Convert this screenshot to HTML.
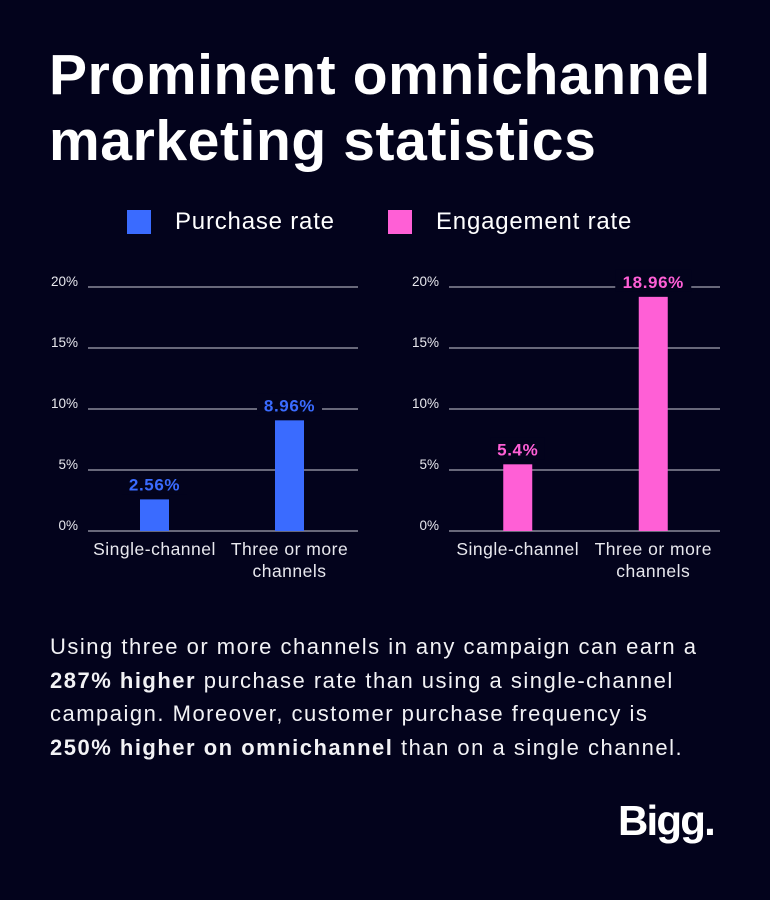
<!DOCTYPE html>
<html><head><meta charset="utf-8"><style>
*{margin:0;padding:0;box-sizing:border-box}
body{width:770px;height:900px;background:#03031c;font-family:"Liberation Sans",sans-serif;color:#fff;position:relative;overflow:hidden}
h1{position:absolute;left:49px;top:42px;font-size:57px;line-height:66px;font-weight:700;letter-spacing:0.6px;white-space:nowrap}
.legend{position:absolute;top:208px;font-size:24px;letter-spacing:0.8px;display:flex;align-items:center}
.sw{width:24px;height:24px;margin-right:24px}
p.body{position:absolute;left:50px;top:630px;font-size:22px;line-height:33.5px;color:#f2f2f5;letter-spacing:1.5px;white-space:nowrap}
.logo{position:absolute;left:618px;top:797px;font-size:42px;font-weight:700;letter-spacing:-1.8px}
svg{position:absolute;left:0;top:0}
</style></head><body>
<h1>Prominent omnichannel<br>marketing statistics</h1>
<div class="legend" style="left:127px"><div class="sw" style="background:#3a6bff"></div>Purchase rate</div>
<div class="legend" style="left:388px"><div class="sw" style="background:#ff5fd6"></div>Engagement rate</div>
<svg id="chart" width="770" height="900"></svg>
<p class="body">Using three or more channels in any campaign can earn a<br><b>287% higher</b> purchase rate than using a single-channel<br>campaign. Moreover, customer purchase frequency is<br><b>250% higher on omnichannel</b> than on a single channel.</p>
<div class="logo">Bigg.</div>
<script>
const categories=["Single-channel","Three or more channels"];
const purchaseValues=[2.56,8.96];
const engagementValues=[5.4,18.96];
const valueLabelsPurchase=["2.56%","8.96%"];
const valueLabelsEngagement=["5.4%","18.96%"];
const ticks=[0,5,10,15,20];
const NS="http://www.w3.org/2000/svg";
const svg=document.getElementById('chart');
function mk(t,a,txt){const e=document.createElementNS(NS,t);for(const k in a)e.setAttribute(k,a[k]);if(txt!=null)e.textContent=txt;svg.appendChild(e);return e;}
const y0=531;
function gy(v){return y0-v*12.2;}
function by(v){return y0-v*12.35;}
function drawChart(x0,x1,vals,labels,color,name,off){
  ticks.forEach(t=>{
    const l=mk('line',{x1:x0,x2:x1,y1:gy(t),y2:gy(t),stroke:'#8a8a9a','stroke-width':1.5});
    
    
    const tx=mk('text',{x:x0-10,y:gy(t)-1,'text-anchor':'end',fill:'#e8e8ee','font-size':13.5,'font-family':'Liberation Sans'},t+'%');
    
    
  });
  const bw=(x1-x0)/2;
  vals.forEach((v,i)=>{
    const cx=x0+bw*(i+0.5)+off;
    const r=mk('rect',{x:cx-14.5,y:by(v),width:29,height:y0-by(v),fill:color});
    
    
    const lw=labels[i].length*11+10;
    mk('rect',{x:cx-lw/2,y:by(v)-27,width:lw,height:22,fill:'#03031c'});
    const lt=mk('text',{x:cx,y:by(v)-9,'text-anchor':'middle',fill:color,'font-size':17,'font-weight':'bold','letter-spacing':0.6,'font-family':'Liberation Sans'},labels[i]);
    
    
    const words=categories[i]==="Three or more channels"?["Three or more","channels"]:[categories[i]];
    words.forEach((w,j)=>{
      const ct=mk('text',{x:cx,y:555+j*22,'text-anchor':'middle',fill:'#e8e8ee','font-size':17.5,'letter-spacing':0.5,'font-family':'Liberation Sans'},w);
      
      
    });
  });
}
drawChart(88,358,purchaseValues,valueLabelsPurchase,'#3a6bff','purchase',-1);
drawChart(449,720,engagementValues,valueLabelsEngagement,'#ff5fd6','engagement',1);
</script>
</body></html>
